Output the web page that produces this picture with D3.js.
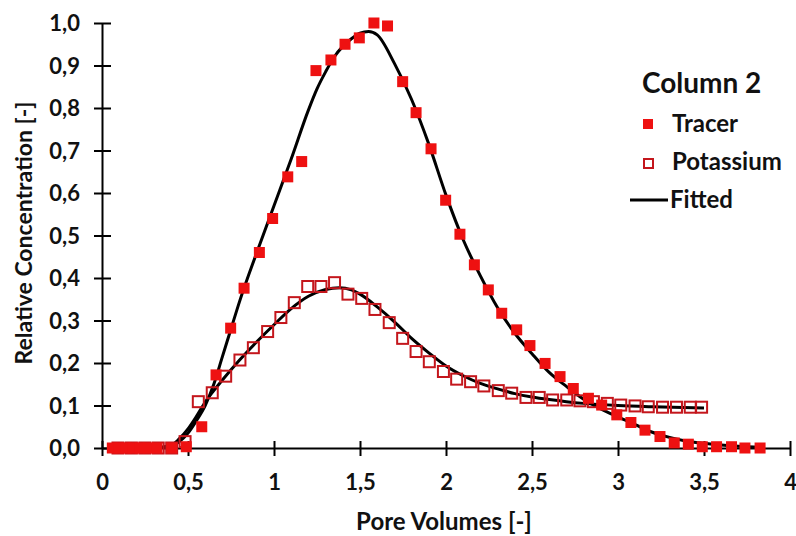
<!DOCTYPE html>
<html><head><meta charset="utf-8">
<script src="https://cdn.jsdelivr.net/npm/d3@7"></script>
<style>
body{margin:0;background:#fff;}
svg text{font-family:Lato,"Open Sans",sans-serif;font-weight:700;fill:#111;}
</style></head><body>
<svg id="chart" width="796" height="536"></svg>
<script>
// Tracer (filled squares)
const tracerX = [0.06,0.10,0.14,0.18,0.22,0.27,0.32,0.405,0.49,0.58,0.663,0.748,0.826,0.915,0.992,1.08,1.161,1.244,1.331,1.413,1.496,1.581,1.66,1.748,1.826,1.913,1.998,2.081,2.165,2.246,2.324,2.411,2.488,2.576,2.663,2.74,2.828,2.905,2.993,3.075,3.157,3.244,3.327,3.409,3.49,3.573,3.66,3.738,3.826];
const tracerY = [0,0,0,0,0,0,0,0.0,0.003,0.05,0.172,0.282,0.376,0.46,0.54,0.638,0.674,0.888,0.913,0.95,0.965,1.0,0.993,0.862,0.789,0.704,0.583,0.503,0.431,0.372,0.317,0.278,0.241,0.199,0.168,0.14,0.117,0.101,0.078,0.06,0.042,0.027,0.012,0.009,0.003,0.003,0.003,0,0];
// Potassium (open squares)
const potX = [0.093,0.171,0.249,0.327,0.405,0.483,0.56,0.641,0.719,0.802,0.88,0.963,1.04,1.118,1.196,1.273,1.352,1.43,1.51,1.587,1.67,1.748,1.826,1.903,1.985,2.062,2.143,2.22,2.304,2.382,2.465,2.542,2.62,2.702,2.779,2.857,2.938,3.016,3.099,3.176,3.259,3.34,3.42,3.486];
const potY = [0,0,0,0,0,0.015,0.109,0.13,0.169,0.207,0.236,0.274,0.307,0.342,0.38,0.38,0.389,0.362,0.352,0.326,0.295,0.258,0.227,0.203,0.18,0.162,0.156,0.146,0.135,0.129,0.119,0.119,0.113,0.113,0.111,0.109,0.105,0.101,0.099,0.097,0.096,0.096,0.096,0.096];
// Fitted curves
const fitTracerX = [0.30,0.40,0.45,0.50,0.55,0.60,0.65,0.70,0.75,0.80,0.90,1.00,1.10,1.20,1.25,1.30,1.35,1.40,1.45,1.50,1.55,1.60,1.70,1.80,1.90,2.00,2.10,2.20,2.30,2.40,2.50,2.60,2.70,2.80,2.90,3.00,3.10,3.20,3.30,3.40,3.50,3.60,3.70,3.83];
const fitTracerY = [0,0.004,0.015,0.035,0.065,0.10,0.15,0.215,0.28,0.345,0.46,0.57,0.68,0.795,0.845,0.885,0.92,0.945,0.963,0.976,0.98,0.972,0.905,0.82,0.715,0.595,0.49,0.405,0.33,0.27,0.222,0.178,0.145,0.115,0.092,0.073,0.055,0.037,0.025,0.016,0.011,0.007,0.004,0.002];
const fitPotX = [0.30,0.40,0.45,0.50,0.55,0.60,0.65,0.70,0.80,0.90,1.00,1.10,1.20,1.30,1.38,1.45,1.50,1.60,1.70,1.80,1.90,2.00,2.10,2.20,2.30,2.40,2.50,2.60,2.70,2.80,3.00,3.20,3.50];
const fitPotY = [0,0.006,0.022,0.045,0.075,0.108,0.135,0.16,0.207,0.25,0.29,0.328,0.357,0.373,0.377,0.372,0.362,0.332,0.297,0.258,0.224,0.193,0.17,0.152,0.139,0.128,0.12,0.114,0.109,0.105,0.100,0.097,0.094];
const xTicks = [0,0.5,1,1.5,2,2.5,3,3.5,4];
const yTicks = [0,0.1,0.2,0.3,0.4,0.5,0.6,0.7,0.8,0.9,1.0];
const legendTitle = "Column 2";
const seriesNames = ["Tracer","Potassium","Fitted"];

const svg = d3.select("#chart");
const x = d3.scaleLinear().domain([0,4]).range([102,790]);
const y = d3.scaleLinear().domain([0,1]).range([448,23]);

// axes
const xAxis = d3.axisBottom(x).tickValues(xTicks).tickSizeInner(0).tickSizeOuter(0)
  .tickFormat(d => String(d).replace(".", ","));
const yAxis = d3.axisLeft(y).tickValues(yTicks).tickSizeInner(0).tickSizeOuter(0)
  .tickFormat(d => d3.format(".1f")(d).replace(".", ","));

const gx = svg.append("g").attr("transform","translate(0,448)").call(xAxis);
gx.select(".domain").attr("stroke","#000").attr("stroke-width",2);
gx.selectAll(".tick line").remove();
gx.selectAll(".tick").append("line").attr("y1",-7).attr("y2",8).attr("stroke","#000").attr("stroke-width",2);
gx.selectAll(".tick text").attr("y",42).attr("dy",0).style("font-size","22px").attr("fill","#111");

const gy = svg.append("g").attr("transform","translate(102,0)").call(yAxis);
gy.select(".domain").attr("stroke","#000").attr("stroke-width",2);
gy.selectAll(".tick line").remove();
gy.selectAll(".tick").append("line").attr("x1",-8).attr("x2",9).attr("stroke","#000").attr("stroke-width",2);
gy.selectAll(".tick text").attr("x",-22).attr("dy","0.35em").style("font-size","22px").attr("fill","#111");
svg.selectAll(".tick text").style("font-family","Lato, sans-serif").style("font-weight","700");

// axis titles
svg.append("text").attr("x",444).attr("y",530).attr("text-anchor","middle").style("font-size","24px").text("Pore Volumes [-]");
svg.append("text").attr("transform","translate(32,233) rotate(-90)").attr("text-anchor","middle").style("font-size","23px").text("Relative Concentration [-]");

// fitted lines
const line = d3.line().x(d=>x(d[0])).y(d=>y(d[1])).curve(d3.curveMonotoneX);
svg.append("path").datum(fitPotX.map((v,i)=>[v,fitPotY[i]])).attr("d",line).attr("fill","none").attr("stroke","#000").attr("stroke-width",3);
svg.append("path").datum(fitTracerX.map((v,i)=>[v,fitTracerY[i]])).attr("d",line).attr("fill","none").attr("stroke","#000").attr("stroke-width",3);

// potassium open squares
const ps = 11;
svg.append("g").selectAll("rect").data(potX.map((v,i)=>[v,potY[i]])).join("rect")
  .attr("x",d=>x(d[0])-ps/2).attr("y",d=>y(d[1])-ps/2).attr("width",ps).attr("height",ps)
  .attr("fill","none").attr("stroke","#c4161c").attr("stroke-width",2);
// tracer filled squares
const ts = 11;
svg.append("g").selectAll("rect").data(tracerX.map((v,i)=>[v,tracerY[i]])).join("rect")
  .attr("x",d=>x(d[0])-ts/2).attr("y",d=>y(d[1])-ts/2).attr("width",ts).attr("height",ts)
  .attr("fill","#ee1111");

// legend
const lg = svg.append("g");
lg.append("text").attr("x",642).attr("y",93).style("font-size","28px").text(legendTitle);
lg.append("rect").attr("x",643).attr("y",119).attr("width",10).attr("height",10).attr("fill","#ee1111");
lg.append("text").attr("x",672).attr("y",132).style("font-size","24px").text(seriesNames[0]);
lg.append("rect").attr("x",644).attr("y",159).attr("width",9).attr("height",9).attr("fill","none").attr("stroke","#c4161c").attr("stroke-width",2);
lg.append("text").attr("x",672).attr("y",170).style("font-size","24px").text(seriesNames[1]);
lg.append("line").attr("x1",630).attr("x2",668).attr("y1",200).attr("y2",200).attr("stroke","#000").attr("stroke-width",3);
lg.append("text").attr("x",670).attr("y",208).style("font-size","24px").text(seriesNames[2]);
</script></body></html>
